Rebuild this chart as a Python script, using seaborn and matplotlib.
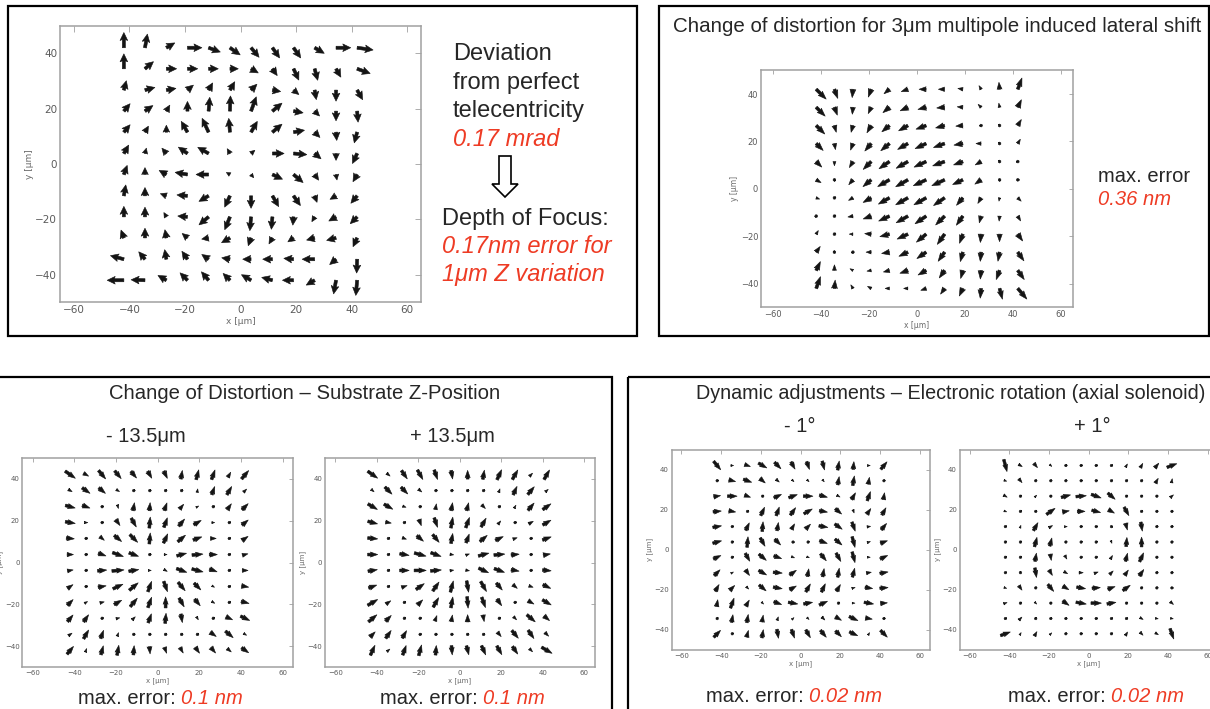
import numpy as np
import matplotlib
matplotlib.use("Agg")
import matplotlib.pyplot as plt
import seaborn as sns
from matplotlib.patches import Rectangle, Polygon

# ---------------- data ----------------
grid_x = [-42.0, -34.4, -26.7, -19.1, -11.5, -3.8, 3.8, 11.5, 19.1, 26.7, 34.4, 42.0]
grid_y = [42.0, 34.4, 26.7, 19.1, 11.5, 3.8, -3.8, -11.5, -19.1, -26.7, -34.4, -42.0]
x_ticks = [-60, -40, -20, 0, 20, 40, 60]
y_ticks = [-40, -20, 0, 20, 40]

# Panel 1: telecentricity deviation (arrow direction in degrees, length in plot units)
tele_ang = [
    [90, 80, 30, 0, -20, -35, -50, -55, -55, -30, 0, -8],
    [90, 40, 0, 0, 0, 0, -30, -55, -65, -75, -60, -20],
    [75, 15, 10, 40, 60, 60, 45, -10, -40, -80, -90, -60],
    [50, 35, 60, 90, 85, 88, 70, 40, -10, -45, -90, -85],
    [50, 60, 90, 120, 115, 95, 60, 40, 10, -45, -85, -105],
    [60, 75, 130, 145, 150, 120, 40, 0, -5, -40, -90, -115],
    [70, 90, 150, 170, 180, 150, -50, -25, -40, -55, -80, -120],
    [80, 90, 160, 175, -150, -115, -90, -60, -55, -70, -150, -130],
    [90, 90, 120, 175, -140, -112, -95, -95, -95, -120, -150, -135],
    [110, 90, 100, 140, -170, -150, -110, -120, -145, -165, -165, -115],
    [165, 130, 100, 125, 145, 170, 180, 180, 175, 180, -140, -92],
    [180, 178, 150, 135, 130, 135, 150, 165, 180, -150, -100, -95],
]
tele_len = [
    [5.5, 5, 3.5, 5.2, 4.5, 4.5, 4.5, 4.5, 4.5, 4, 5.3, 5.8],
    [5.4, 4, 3.7, 3.7, 3.5, 3, 3, 3, 4.5, 4.3, 3.5, 5],
    [3.5, 3.7, 3.5, 2.8, 3, 3.5, 3, 3, 2.5, 3.5, 4, 4],
    [3.5, 3.5, 2.5, 3.5, 5, 5.5, 5.5, 4.5, 3.5, 2.5, 3.5, 4],
    [3.5, 2.5, 2.5, 4.5, 5.5, 5, 4.5, 4.5, 4, 2.7, 3, 4],
    [3.5, 2, 2.5, 4, 4.5, 2, 1.8, 4.2, 4.8, 3, 2.5, 4],
    [3.5, 2.5, 3, 4.5, 4.5, 1.5, 1.5, 4, 4.5, 2.5, 2, 3],
    [4, 3, 2.3, 3.8, 4, 4.5, 4.5, 4.5, 4.3, 2.5, 2.5, 3.5],
    [3.8, 3.5, 1.8, 3.5, 4.5, 5, 5, 4.5, 3, 2, 3, 3.5],
    [3, 3.5, 3, 2.5, 2.5, 3.5, 3, 2.5, 2.5, 3, 3.5, 3.5],
    [5, 3.5, 3.5, 3.5, 3, 3, 3, 3.5, 3.5, 4.5, 3, 5],
    [6, 5, 3.5, 3.8, 4, 3.5, 4, 4, 4, 3.5, 5, 5.5],
]

# Panel 2: 3 µm multipole induced lateral shift
shift_ang = [
    [-45, -70, -95, -110, -140, -160, 180, 180, 170, 120, 95, 70],
    [-45, -70, -95, -115, -140, -155, -165, -175, 175, 135, 100, 65],
    [-45, -75, -105, -120, -140, -150, -160, -165, -175, 170, 90, 60],
    [-45, -80, -110, -130, -140, -150, -155, -160, -170, 180, 90, 60],
    [-45, -90, -120, -135, -145, -150, -155, -160, -160, -150, 90, 160],
    [-30, -90, -130, -140, -150, -150, -155, -155, -155, -145, -90, -30],
    [-20, 0, -150, -150, -150, -150, -150, -145, -130, -120, -100, -45],
    [180, 0, -170, -160, -155, -150, -145, -135, -125, -105, -95, -60],
    [60, 0, 180, 175, -165, -155, -140, -125, -110, -95, -90, -55],
    [55, 90, 180, 180, -170, -155, -145, -125, -105, -95, -100, -55],
    [65, 90, 150, -170, -165, -160, -150, -125, -105, -95, -110, -55],
    [70, 85, 120, 150, 180, 180, -160, -125, -115, -95, -75, -50],
]
shift_len = [
    [5, 3.5, 3, 3, 2.5, 2.5, 2.5, 2.2, 1.8, 1.5, 2.5, 4.3],
    [4.5, 3, 2.5, 2.5, 3, 3, 3, 2.8, 2, 1.5, 1.5, 3],
    [4.3, 2.5, 2.5, 3, 3.5, 3.8, 3.8, 3.3, 2.5, 1, 0.6, 2.5],
    [3.5, 2.2, 2.5, 3.5, 4, 4.2, 4.3, 4.2, 3.2, 1.8, 0.4, 1.8],
    [2.8, 1.5, 2.5, 4, 4.5, 4.8, 4.7, 4.5, 3.5, 2.4, 0.4, 0.8],
    [2, 0.7, 2.3, 3.8, 4.8, 5, 5, 5, 4, 2.7, 0.6, 1],
    [1.3, 0.4, 1.8, 3.3, 4.5, 5, 5, 4.8, 3.5, 2.3, 1.2, 1.7],
    [1, 0.3, 1.8, 3, 4.2, 4.8, 4.8, 4.5, 4, 2.5, 1.8, 2],
    [1.5, 0.3, 1.3, 2.3, 3.5, 4.2, 4.5, 4.5, 3.5, 3, 2.7, 3],
    [2.5, 0.8, 1, 1.8, 2.8, 3.5, 4, 4, 3.5, 3.3, 3.3, 3.8],
    [3.5, 2, 1.2, 1.5, 2.2, 3, 3.3, 3.3, 3, 3.1, 3.5, 4],
    [4.5, 3, 1.5, 1.5, 1.5, 1.5, 2, 2.5, 3, 3.5, 4, 5],
]

# Panel 3: substrate Z position -13.5 µm / +13.5 µm
zminus_ang = [
    [-35, -30, -50, -50, -50, -60, -65, 80, 75, 70, 60, 50],
    [-30, -35, -40, -30, 0, 0, 0, 0, 80, 70, 60, 45],
    [-15, -20, 0, -75, 80, 85, 70, 50, 30, 0, 55, 45],
    [-10, 0, 0, -55, -60, 85, 70, 50, 30, 0, 0, 40],
    [-5, 0, -40, -40, -45, 85, 65, 40, 20, 0, 0, 35],
    [0, 0, -20, -20, -20, 0, 0, 15, 5, 0, 0, 15],
    [10, 0, 5, 5, 10, 0, -30, -20, -15, -20, 0, 0],
    [35, 0, 10, 25, 40, 70, -70, -50, -45, -30, 0, -10],
    [45, 30, 15, 30, 50, 70, 90, -60, -50, -30, 0, -15],
    [50, 55, 0, 15, 45, 70, 85, -80, -60, 0, -25, -25],
    [35, 60, 70, 70, 0, 0, 0, 0, 0, -35, -40, -30],
    [50, 70, 75, 80, 85, -85, -70, -60, -55, -50, -40, -35],
]
zminus_len = [
    [4.3, 2, 3.8, 3.5, 3, 2.8, 2.8, 3, 3.5, 3.5, 2, 3.8],
    [1.5, 3.3, 3, 1.3, 0.7, 0.7, 0.7, 0.7, 1.2, 3, 3.3, 1.5],
    [3.5, 2.8, 0.5, 1.3, 2.8, 2.8, 2.8, 2.2, 1, 0.7, 2.5, 3],
    [3.5, 1.2, 0.8, 2.5, 3.5, 3.8, 3.5, 3.2, 3, 1, 0.7, 2.8],
    [2.8, 0.5, 2, 3.3, 3.8, 3.8, 3.5, 3.5, 3.2, 2, 0.5, 2.5],
    [2.2, 0.5, 2.8, 4, 3.5, 0.8, 1, 3.5, 3.8, 2.8, 0.5, 2],
    [2, 0.5, 3.2, 4.2, 3.5, 1, 1.3, 3.8, 4, 2.8, 0.5, 2],
    [2.3, 0.5, 2.8, 3.8, 4, 3.8, 3.8, 3.8, 3.3, 1, 0.5, 2.5],
    [2.8, 1.2, 1.5, 3, 3.8, 3.8, 3.8, 3.5, 3, 1.2, 0.7, 2.8],
    [3, 3, 0.7, 1.3, 1.5, 3.3, 3.5, 3, 1.2, 0.6, 2.5, 3.5],
    [1.5, 3.5, 3, 1.3, 0.5, 0.5, 0.5, 0.5, 0.5, 2.5, 3.5, 1.2],
    [3.5, 1.3, 3.2, 3.5, 3.2, 2.5, 2.2, 2.2, 2.5, 2.5, 1.8, 3],
]
zplus_ang = [
    [-35, -40, -55, -60, -70, -80, 90, 80, 65, 60, 45, 60],
    [-40, -45, -45, -40, 0, 0, 0, 0, 70, 65, 50, 40],
    [-30, -30, -20, 0, 80, 80, 75, -45, 0, 60, 50, 35],
    [-15, -10, 0, -70, -70, 80, 70, 60, 50, 0, 30, 30],
    [-5, 0, -20, -40, -50, 80, 70, 40, 25, 20, 0, 20],
    [0, 0, -10, -15, -20, -10, 20, 15, 5, 5, 0, 10],
    [10, 0, 0, 0, 5, 10, -10, -25, -20, -10, 0, -5],
    [20, 0, 20, 35, 55, 75, -80, -60, -50, -40, -20, -25],
    [30, 35, 0, 45, 60, 80, -85, -70, -55, 0, -30, -30],
    [40, 45, 0, 0, 70, 80, 90, -80, 0, -45, -40, -40],
    [45, 55, 60, 0, 0, 0, 0, 0, -50, -50, -55, -45],
    [65, 40, 70, 75, 85, -85, -75, -65, -60, -55, -45, -30],
]
zplus_len = [
    [4.2, 1.5, 3.5, 3.8, 3.5, 3, 3, 3.2, 3.8, 3.8, 1.5, 3.8],
    [1.3, 3.5, 3.3, 1.5, 0.5, 0.5, 0.5, 0.5, 1.3, 3.2, 3.5, 1.3],
    [3.8, 3.5, 1.2, 0.6, 2, 2.8, 2.8, 1.8, 0.5, 1.2, 3.3, 3.5],
    [3.5, 2, 0.5, 2.3, 3.5, 3.8, 3.8, 3.5, 1.5, 0.5, 1.8, 3.3],
    [3.5, 0.6, 1.5, 3, 3.5, 3.5, 3.2, 3.3, 3, 1.5, 0.5, 3.2],
    [3.5, 0.6, 3.3, 4.2, 3.8, 1.3, 1.3, 3.8, 3.8, 2.8, 0.6, 2.5],
    [3.3, 0.6, 3.3, 4.2, 3.8, 1.3, 1.3, 3.8, 3.8, 2.8, 0.6, 3],
    [3, 0.6, 2, 3.5, 3.8, 4, 4, 4, 3.2, 2, 1.5, 3],
    [4, 2, 0.5, 2.5, 3.8, 3.8, 4, 3.8, 2.8, 0.5, 2.3, 3.5],
    [3.8, 2.8, 0.5, 0.5, 2, 2.3, 2.5, 2.3, 0.6, 1.5, 3.8, 2.5],
    [2.5, 3.3, 3, 0.6, 0.5, 0.5, 0.5, 0.6, 2, 3.5, 3.5, 1.8],
    [3.8, 1.3, 3.5, 3.8, 3.3, 3.2, 3.2, 3.5, 3.5, 3.2, 1.5, 4.2],
]

# Panel 4: electronic rotation -1° / +1°
rotminus_ang = [
    [-50, 0, -20, -30, -45, -60, -70, -75, 80, 85, 0, 50],
    [0, -15, -20, -40, -40, -45, -45, -50, 80, 80, 80, 0],
    [10, 0, -20, 0, 25, 20, 0, -15, -30, 60, 70, 80],
    [5, -10, 0, 65, 70, 55, 30, -10, -40, -70, 55, 60],
    [10, 0, 65, 85, 80, 60, 45, -10, -35, -70, 10, 50],
    [15, 0, 85, -60, -45, -45, 0, -20, -40, -75, 20, 20],
    [25, 0, -60, -40, -20, -20, -20, -50, -60, -75, 0, 25],
    [45, 30, -55, -30, -5, 35, 80, 80, 80, 75, 10, 10],
    [60, 45, -45, -40, -10, 30, 60, 65, 60, 15, -10, 5],
    [80, 70, 60, -45, -20, -10, 10, 25, 0, 0, -10, 5],
    [30, 80, 80, 80, 70, 45, -45, -45, -30, -25, -10, 0],
    [45, 0, 75, 80, -80, -70, -60, -50, -45, -25, 60, -45],
]
rotminus_len = [
    [4, 1, 2.2, 3.5, 3.3, 3, 3, 3.3, 3.3, 2.8, 1, 3.5],
    [0.6, 2.5, 3.2, 2.5, 1.5, 1, 1, 1, 3, 3.5, 2.5, 0.6],
    [2.5, 3.5, 2.3, 0.8, 3, 3.3, 3.5, 3, 1.3, 2.8, 3.5, 2.5],
    [3, 2.5, 0.8, 3.3, 3.3, 3.3, 3.5, 3, 3, 1.2, 2.5, 3],
    [3.2, 0.8, 3, 3.5, 3, 2.3, 2.5, 3.3, 3.3, 3.5, 1.3, 3],
    [3.3, 0.8, 3.8, 3.5, 3, 0.9, 0.9, 3, 3.3, 4, 1.2, 2.7],
    [3, 0.8, 3.3, 3.5, 3, 1.2, 1, 3.3, 3.5, 4, 1, 3],
    [3, 1, 2.5, 3.3, 3.3, 3, 2.8, 3, 3.3, 3.3, 1.8, 3],
    [2.8, 2.5, 1.2, 3.3, 3.3, 2.8, 3.3, 3.3, 2.8, 1.2, 2.8, 3],
    [2.5, 3.8, 2.5, 1, 3, 3.5, 3.3, 3.3, 0.8, 1, 3.5, 2.5],
    [0.8, 2.8, 3, 2.5, 1.3, 1, 1, 1.5, 2.5, 3.5, 2.5, 0.8],
    [3.5, 0.8, 2.5, 3, 3.3, 3.3, 3.3, 3.3, 3, 3.3, 1, 3.5],
]
rotplus_ang = [
    [-75, -30, -50, -45, 0, 0, 0, 0, 60, 60, 50, 20],
    [-20, -50, 0, 0, 0, 0, 0, 0, 0, 0, 60, 80],
    [-30, 0, 45, 0, 15, 5, -20, -40, 0, 0, 0, 40],
    [-20, 0, 0, 35, 10, 0, -15, -30, -60, 0, 0, 0],
    [0, 70, 60, 30, 0, 0, -20, -40, -75, -80, 0, 0],
    [0, 0, 75, 75, 0, 0, 0, -70, 85, 90, 0, 0],
    [0, 0, 80, -80, -60, 0, 0, 60, 75, 65, 0, 0],
    [0, 60, -80, -60, -30, 0, 20, 45, 55, 55, 0, 0],
    [-20, -55, 0, -50, -30, -10, 5, 20, 35, 0, 0, -30],
    [20, 0, -45, 0, -35, -10, 0, 10, 0, 0, 0, -40],
    [0, 45, 45, 0, 0, 0, 0, 0, 0, -30, -10, -10],
    [20, 60, 60, 45, 0, 0, 0, 0, 60, -45, -30, -70],
]
rotplus_len = [
    [4.5, 1.5, 2, 1, 0.5, 0.3, 0.3, 0.5, 1.3, 1.8, 2.2, 3.8],
    [1, 1.8, 0.4, 0.4, 0.5, 0.5, 0.3, 0.4, 0.4, 0.4, 2, 1.5],
    [1.5, 0.4, 1, 0.4, 3.5, 3.8, 3.8, 3.5, 0.4, 0.4, 0.4, 1.5],
    [1, 0.4, 0.6, 3.8, 2.5, 2.8, 3.3, 2.5, 3.5, 0.4, 0.4, 0.5],
    [0.5, 1, 3.3, 1.5, 1, 0.6, 0.8, 0.9, 2.5, 3.3, 0.4, 0.4],
    [0.3, 0.3, 3.5, 3, 0.6, 0.4, 0.5, 1, 3.3, 3.5, 0.3, 0.3],
    [0.3, 0.4, 3, 2.3, 1.5, 0.5, 0.5, 1.5, 3, 3.5, 0.4, 0.3],
    [0.5, 0.9, 3.5, 2.3, 1.5, 1.5, 1.5, 1.8, 2.3, 2.8, 0.4, 0.4],
    [1, 2, 0.4, 3.3, 2.5, 3.3, 3, 2.8, 3.3, 0.4, 0.4, 0.8],
    [1.3, 0.5, 1, 0.4, 2.8, 3.8, 3.8, 3.3, 0.4, 0.4, 0.4, 1.5],
    [0.5, 1.5, 0.8, 0.4, 0.4, 0.4, 0.4, 0.4, 0.5, 1.3, 1, 1],
    [3.8, 1, 1.8, 1, 0.4, 0.3, 0.3, 0.4, 1.5, 1.5, 1.3, 4],
]

# ---------------- styling ----------------
sns.set_style("white")
plt.rcParams["font.family"] = ["Liberation Sans", "DejaVu Sans"]
RED = "#ee3b24"
W, H = 1210, 709

fig = plt.figure(figsize=(W / 100, H / 100), dpi=100)
fig.patch.set_facecolor("white")

bg = fig.add_axes([0, 0, 1, 1], zorder=0)
bg.set_xlim(0, W)
bg.set_ylim(H, 0)
bg.axis("off")


def rect(l, t, r, b):
    return [l / W, 1 - b / H, (r - l) / W, (b - t) / H]


def vec_panel(box, ang, length, pivot, width, hw, hl, hal, scale, tick_fs, lab_fs, ticklen):
    ax = fig.add_axes(rect(*box), zorder=2)
    X, Y = np.meshgrid(grid_x, grid_y)
    a = np.deg2rad(np.array(ang, dtype=float))
    L = np.array(length, dtype=float)
    ax.quiver(X, Y, L * np.cos(a), L * np.sin(a), angles="xy", scale_units="xy",
              scale=scale, pivot=pivot, width=width, headwidth=hw, headlength=hl,
              headaxislength=hal, color="#141414", edgecolor="#141414", linewidth=0.4)
    ax.set_xlim(-65, 65)
    ax.set_ylim(-50, 50)
    ax.set_xticks(x_ticks)
    ax.set_yticks(y_ticks)
    ax.tick_params(direction="in", top=True, right=True, length=ticklen, width=0.6,
                   color="#a0a0a0", labelsize=tick_fs, labelcolor="#5a5a5a", pad=2)
    for lab in ax.get_xticklabels() + ax.get_yticklabels():
        lab.set_family("DejaVu Sans")
    for s in ax.spines.values():
        s.set_color("#a0a0a0")
        s.set_linewidth(1.1)
    ax.set_xlabel("x [μm]", fontsize=lab_fs, color="#6a6a6a", labelpad=1, family="DejaVu Sans")
    ax.set_ylabel("y [μm]", fontsize=lab_fs, color="#6a6a6a", labelpad=1, family="DejaVu Sans")
    ax.set_facecolor("white")
    return ax


# plots
vec_panel((60, 25.6, 421, 302.4), tele_ang, tele_len, "tail", 0.0085, 2.5, 2.6, 2.3, 1.0, 7.5, 6.5, 4)
vec_panel((761, 70.3, 1073, 307.4), shift_ang, shift_len, "tail", 0.0095, 2.0, 2.8, 2.5, 0.85, 6, 5.5, 3)
small = dict(pivot="middle", width=0.0105, hw=1.8, hl=2.6, hal=2.3, scale=0.72,
             tick_fs=5, lab_fs=5, ticklen=3)
vec_panel((22.4, 458, 293, 667), zminus_ang, zminus_len, **small)
vec_panel((325, 458, 594.5, 667), zplus_ang, zplus_len, **small)
vec_panel((671.5, 449.5, 929.6, 649.8), rotminus_ang, rotminus_len, **small)
vec_panel((959.8, 449.5, 1217.5, 649.8), rotplus_ang, rotplus_len, **small)

# boxes
for (l, t, r, b) in [(7.5, 6, 636.5, 336), (658.5, 6, 1208.5, 336),
                     (-5, 376.5, 612, 720), (627.5, 376.5, 1220, 720)]:
    bg.add_patch(Rectangle((l, t), r - l, b - t, fill=False, ec="black", lw=1.6))

# panel 1 text
big = 17
bg.text(453, 60, "Deviation", fontsize=big, va="baseline")
bg.text(453, 89, "from perfect", fontsize=big, va="baseline")
bg.text(453, 117, "telecentricity", fontsize=big, va="baseline")
bg.text(453, 145.5, "0.17 mrad", fontsize=big, va="baseline", color=RED, style="italic")
bg.add_patch(Polygon([(499, 156), (511, 156), (511, 184), (518, 184), (505, 197),
                      (492, 184), (499, 184)], closed=True, fc="white", ec="black", lw=1.2))
bg.text(442, 225, "Depth of Focus:", fontsize=big, va="baseline")
bg.text(442, 253, "0.17nm error for", fontsize=big, va="baseline", color=RED, style="italic")
bg.text(442, 281, "1μm Z variation", fontsize=big, va="baseline", color=RED, style="italic")

# panel 2 text
bg.text(937, 32, "Change of distortion for 3μm multipole induced lateral shift",
        fontsize=14.8, ha="center", va="baseline")
bg.text(1098, 181.5, "max. error", fontsize=14.5, va="baseline")
bg.text(1098, 205, "0.36 nm", fontsize=14.5, va="baseline", color=RED, style="italic")

# panel 3 text
bg.text(304.5, 399, "Change of Distortion – Substrate Z-Position", fontsize=14.6,
        ha="center", va="baseline")
bg.text(145.7, 442, "- 13.5μm", fontsize=14.5, ha="center", va="baseline")
bg.text(452.8, 442, "+ 13.5μm", fontsize=14.5, ha="center", va="baseline")

# panel 4 text
bg.text(950.5, 399, "Dynamic adjustments – Electronic rotation (axial solenoid)",
        fontsize=14.2, ha="center", va="baseline")
bg.text(799.5, 432.5, "- 1°", fontsize=14.5, ha="center", va="baseline")
bg.text(1092.6, 432.5, "+ 1°", fontsize=14.5, ha="center", va="baseline")


def max_err(x_left, y_base, value):
    t = bg.text(x_left, y_base, "max. error: ", fontsize=14.5, va="baseline")
    bg.annotate(value, xy=(1, 0), xycoords=t, fontsize=14.5, va="bottom", ha="left",
                color=RED, style="italic")


max_err(78, 704, "0.1 nm")
max_err(380, 704, "0.1 nm")
max_err(706, 702, "0.02 nm")
max_err(1007.5, 702, "0.02 nm")

fig.savefig("out.png", dpi=100)
